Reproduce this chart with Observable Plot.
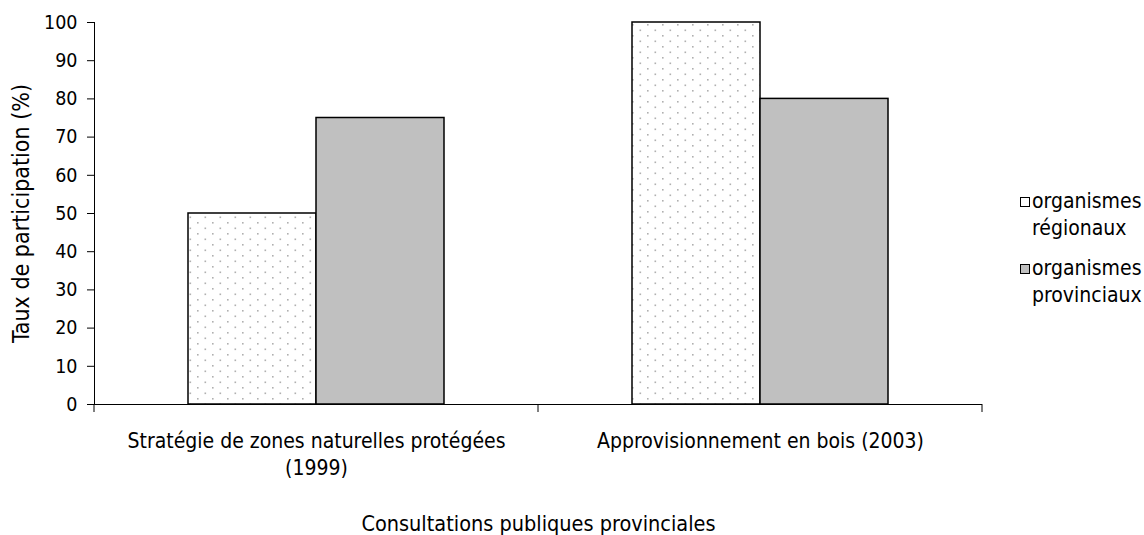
<!DOCTYPE html>
<html>
<head>
<meta charset="utf-8">
<script src="https://cdn.jsdelivr.net/npm/d3@7"></script>
<script src="https://cdn.jsdelivr.net/npm/@observablehq/plot@0.6"></script>
<style>
  html, body { margin: 0; padding: 0; background: white; }
  #wrap { position: relative; width: 1144px; height: 535px; overflow: hidden; font-family: "DejaVu Sans Condensed", "DejaVu Sans", sans-serif; font-stretch: condensed; }
  .leg { position: absolute; left: 1020px; font-size: 21px; line-height: 27px; color: black; }
  .leg .sw { position: absolute; left: 0; width: 8px; height: 8px; border: 1px solid black; }
  .leg .tx { position: absolute; left: 12px; white-space: nowrap; }
</style>
</head>
<body>
<div id="wrap"></div>
<script>
const categories = ["Stratégie de zones naturelles protégées\n(1999)", "Approvisionnement en bois (2003)"];
const seriesNames = ["organismes régionaux", "organismes provinciaux"];
const regionaux = [50, 100];
const provinciaux = [75, 80];
const yTicks = [0, 10, 20, 30, 40, 50, 60, 70, 80, 90, 100];
const yLabel = "Taux de participation (%)";
const xLabel = "Consultations publiques provinciales";

const regData = categories.map((c, i) => ({cat: c, v: regionaux[i], s: seriesNames[0]}));
const provData = categories.map((c, i) => ({cat: c, v: provinciaux[i], s: seriesNames[1]}));

const font = '"DejaVu Sans Condensed", "DejaVu Sans", sans-serif';

// defs for dotted pattern
function patternMark(index, scales, values, dimensions, context) {
  const g = d3.create("svg:g");
  const p = g.append("defs").append("pattern")
    .attr("id", "dots").attr("patternUnits", "userSpaceOnUse")
    .attr("width", 15).attr("height", 11);
  p.append("rect").attr("width", 15).attr("height", 11).attr("fill", "white");
  p.append("rect").attr("x", 2).attr("y", 2).attr("width", 1.6).attr("height", 1.6).attr("fill", "#b0b0b0");
  p.append("rect").attr("x", 9.5).attr("y", 7.5).attr("width", 1.6).attr("height", 1.6).attr("fill", "#b0b0b0");
  return g.node();
}

// category boundary ticks under the x axis
function boundaryTicks(index, scales, values, dimensions, context) {
  const {width, marginLeft, marginRight} = dimensions;
  const n = categories.length;
  const step = (width - marginLeft - marginRight) / n;
  const y0 = scales.y(0);
  const g = d3.create("svg:g").attr("stroke", "black");
  for (let i = 0; i <= n; i++) {
    const x = marginLeft + i * step;
    g.append("line").attr("x1", x).attr("x2", x).attr("y1", y0).attr("y2", y0 + 8);
  }
  return g.node();
}

const chart = Plot.plot({
  width: 1144,
  height: 535,
  marginLeft: 94,
  marginRight: 162,
  marginTop: 22,
  marginBottom: 131,
  style: {fontFamily: font, fontSize: "19.5px", color: "black", background: "white", overflow: "visible"},
  x: {domain: categories, padding: 0},
  y: {domain: [0, 100]},
  marks: [
    patternMark,
    Plot.barY(regData, {x: "cat", y: "v", fill: "url(#dots)", stroke: "black", strokeWidth: 1.5, insetLeft: 94, insetRight: 222}),
    Plot.barY(provData, {x: "cat", y: "v", fill: "#c0c0c0", stroke: "black", strokeWidth: 1.5, insetLeft: 222, insetRight: 94}),
    Plot.ruleY([0], {stroke: "black"}),
    Plot.frame({anchor: "left", stroke: "black"}),
    boundaryTicks,
    Plot.axisY({ticks: yTicks, tickSize: 7, tickPadding: 10, fontSize: 19.5, label: null, stroke: "black", strokeOpacity: 1}),
    Plot.axisY({ticks: [], tickSize: 0, fontSize: 23, label: yLabel, labelAnchor: "center", labelArrow: "none", labelOffset: 82}),
    Plot.axisX({tickSize: 0, tickPadding: 24, lineHeight: 1.3, fontSize: 21, label: null, textOverflow: null, lineWidth: Infinity}),
    Plot.axisX({ticks: [], tickSize: 0, fontSize: 21.5, label: xLabel, labelAnchor: "center", labelArrow: "none", labelOffset: 126})
  ]
});

const wrap = document.getElementById("wrap");
wrap.appendChild(chart);

// legend
const legItems = [
  {name: seriesNames[0], lines: ["organismes", "régionaux"], fill: "white", top: 188},
  {name: seriesNames[1], lines: ["organismes", "provinciaux"], fill: "#c0c0c0", top: 255}
];
for (const it of legItems) {
  const d = document.createElement("div");
  d.className = "leg";
  d.style.top = it.top + "px";
  const sw = document.createElement("div");
  sw.className = "sw";
  sw.style.top = "9px";
  sw.style.background = it.fill;
  d.appendChild(sw);
  const tx = document.createElement("div");
  tx.className = "tx";
  tx.innerHTML = it.lines.join("<br>");
  d.appendChild(tx);
  wrap.appendChild(d);
}
</script>
</body>
</html>
